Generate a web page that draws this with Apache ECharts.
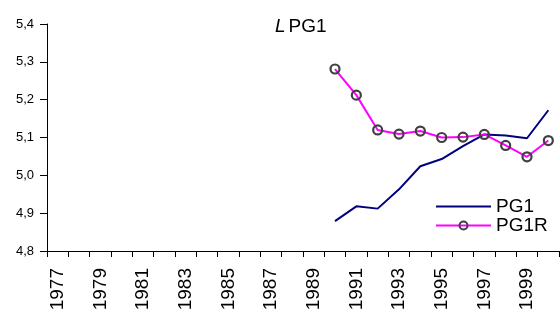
<!DOCTYPE html>
<html>
<head>
<meta charset="utf-8">
<script src="https://cdn.jsdelivr.net/npm/echarts@6/dist/echarts.min.js"></script>
<style>html,body{margin:0;padding:0;background:#fff}#c{width:560px;height:321px}</style>
</head>
<body>
<div id="c"></div>
<script>
var years = ['1977','1978','1979','1980','1981','1982','1983','1984','1985','1986','1987','1988','1989','1990','1991','1992','1993','1994','1995','1996','1997','1998','1999','2000'];
var pg1 = [null,null,null,null,null,null,null,null,null,null,null,null,null,4.879,4.918,4.912,4.963,5.024,5.043,5.077,5.108,5.105,5.098,5.172];
var pg1r = [null,null,null,null,null,null,null,null,null,null,null,null,null,5.281,5.212,5.120,5.109,5.117,5.100,5.101,5.108,5.079,5.049,5.092];
var yTicks = {min: 4.8, max: 5.4, step: 0.1};

var chart = echarts.init(document.getElementById('c'));
var font = 'Liberation Sans, Arial, sans-serif';
chart.setOption({
  animation: false,
  backgroundColor: '#fff',
  title: {
    text: '{i|L}{n|PG1}',
    left: 270, top: 12,
    textStyle: {
      fontWeight: 'normal',
      rich: {
        i: {fontStyle: 'italic', fontWeight: 'normal', fontSize: 19, fontFamily: font, color: '#000'},
        n: {fontWeight: 'normal', fontSize: 19, fontFamily: font, color: '#000', padding: [0, 0, 0, 3]}
      }
    }
  },
  legend: {
    orient: 'vertical',
    left: 435, top: 197, padding: 0,
    itemWidth: 55, itemHeight: 10, itemGap: 0,
    textStyle: {fontSize: 19, lineHeight: 19, fontFamily: font, color: '#000'},
    data: [{name: 'PG1', itemStyle: {opacity: 0}}, {name: 'PG1R'}]
  },
  grid: {left: 47, right: 1, top: 24, bottom: 70, containLabel: false},
  xAxis: {
    type: 'category',
    data: years,
    boundaryGap: true,
    axisLine: {lineStyle: {color: '#000', width: 1}},
    axisTick: {show: true, interval: 0, length: 6, lineStyle: {color: '#000'}},
    axisLabel: {interval: 1, rotate: 90, fontSize: 19, fontFamily: font, color: '#000', margin: 17}
  },
  yAxis: {
    type: 'value',
    min: yTicks.min, max: yTicks.max, interval: yTicks.step,
    splitLine: {show: false},
    axisLine: {show: true, lineStyle: {color: '#000', width: 1}},
    axisTick: {show: true, length: 7, lineStyle: {color: '#000'}},
    axisLabel: {fontSize: 13, fontFamily: font, color: '#000', margin: 13,
      formatter: function (v) { return v.toFixed(1).replace('.', ','); }}
  },
  series: [
    {
      name: 'PG1', type: 'line', data: pg1, symbol: 'none',
      lineStyle: {color: '#000080', width: 2}, itemStyle: {color: '#000080'}
    },
    {
      name: 'PG1R', type: 'line', data: pg1r, symbol: 'circle', symbolSize: 9,
      lineStyle: {color: '#ff00ff', width: 2},
      itemStyle: {color: 'rgba(255,255,255,0)', borderColor: '#404040', borderWidth: 2.2}
    }
  ]
});
</script>
</body>
</html>
